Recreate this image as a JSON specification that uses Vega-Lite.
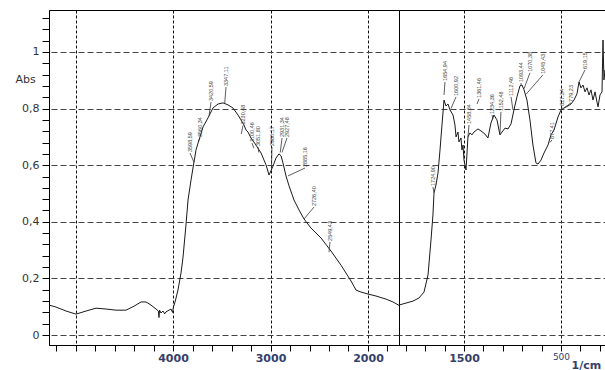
{
  "$schema": "https://vega.github.io/schema/vega-lite/v6.json",
  "padding": {"left": 14, "top": 9, "right": 0, "bottom": 0},
  "autosize": {"type": "pad"},
  "spacing": 0,
  "bounds": "flush",
  "config": {
    "view": {"stroke": "#000", "strokeWidth": 1},
    "axis": {"domainColor": "#000", "tickColor": "#000", "domainWidth": 1, "tickWidth": 1, "labelOverlap": false, "labelFlush": false, "labelBound": false, "tickCount": 200}
  },
  "datasets": {
    "left": [
      {"w":5272,"a":0.106},{"w":5200,"a":0.099},{"w":5097,"a":0.085},{"w":4995,"a":0.074},{"w":4892,"a":0.085},{"w":4790,"a":0.095},{"w":4687,"a":0.092},{"w":4585,"a":0.088},{"w":4482,"a":0.088},{"w":4400,"a":0.102},{"w":4328,"a":0.117},{"w":4277,"a":0.117},{"w":4226,"a":0.106},{"w":4174,"a":0.092},{"w":4150,"a":0.085},{"w":4144,"a":0.062},{"w":4138,"a":0.088},{"w":4123,"a":0.078},{"w":4103,"a":0.085},{"w":4085,"a":0.075},{"w":4072,"a":0.082},{"w":4041,"a":0.088},{"w":4020,"a":0.092},{"w":4005,"a":0.08},{"w":3995,"a":0.1},{"w":3979,"a":0.117},{"w":3949,"a":0.159},{"w":3918,"a":0.219},{"w":3897,"a":0.276},{"w":3867,"a":0.389},{"w":3846,"a":0.477},{"w":3815,"a":0.548},{"w":3795,"a":0.59},{"w":3764,"a":0.654},{"w":3733,"a":0.689},{"w":3692,"a":0.735},{"w":3641,"a":0.767},{"w":3590,"a":0.802},{"w":3538,"a":0.816},{"w":3487,"a":0.82},{"w":3436,"a":0.813},{"w":3385,"a":0.802},{"w":3333,"a":0.777},{"w":3303,"a":0.76},{"w":3272,"a":0.742},{"w":3251,"a":0.724},{"w":3231,"a":0.717},{"w":3200,"a":0.696},{"w":3149,"a":0.671},{"w":3097,"a":0.643},{"w":3046,"a":0.601},{"w":3015,"a":0.565},{"w":2974,"a":0.597},{"w":2944,"a":0.625},{"w":2913,"a":0.64},{"w":2892,"a":0.633},{"w":2872,"a":0.608},{"w":2841,"a":0.562},{"w":2810,"a":0.527},{"w":2759,"a":0.477},{"w":2708,"a":0.442},{"w":2656,"a":0.41},{"w":2585,"a":0.378},{"w":2482,"a":0.343},{"w":2380,"a":0.297},{"w":2277,"a":0.247},{"w":2174,"a":0.191},{"w":2123,"a":0.159},{"w":2072,"a":0.152},{"w":2000,"a":0.145},{"w":1918,"a":0.138},{"w":1815,"a":0.127},{"w":1744,"a":0.117},{"w":1682,"a":0.105}
    ],
    "right": [
      {"w":2170,"a":0.106},{"w":2098,"a":0.113},{"w":2026,"a":0.12},{"w":1964,"a":0.131},{"w":1912,"a":0.152},{"w":1871,"a":0.212},{"w":1840,"a":0.336},{"w":1820,"a":0.424},{"w":1809,"a":0.502},{"w":1789,"a":0.53},{"w":1768,"a":0.572},{"w":1747,"a":0.654},{"w":1727,"a":0.742},{"w":1706,"a":0.83},{"w":1686,"a":0.809},{"w":1665,"a":0.816},{"w":1644,"a":0.795},{"w":1613,"a":0.777},{"w":1593,"a":0.742},{"w":1582,"a":0.7},{"w":1562,"a":0.717},{"w":1552,"a":0.682},{"w":1531,"a":0.696},{"w":1521,"a":0.654},{"w":1510,"a":0.671},{"w":1500,"a":0.618},{"w":1479,"a":0.583},{"w":1459,"a":0.7},{"w":1438,"a":0.714},{"w":1418,"a":0.707},{"w":1397,"a":0.717},{"w":1356,"a":0.728},{"w":1325,"a":0.721},{"w":1284,"a":0.71},{"w":1253,"a":0.696},{"w":1222,"a":0.749},{"w":1191,"a":0.777},{"w":1160,"a":0.76},{"w":1129,"a":0.707},{"w":1108,"a":0.717},{"w":1077,"a":0.731},{"w":1046,"a":0.728},{"w":1015,"a":0.746},{"w":985,"a":0.795},{"w":954,"a":0.841},{"w":923,"a":0.88},{"w":902,"a":0.883},{"w":881,"a":0.866},{"w":851,"a":0.83},{"w":820,"a":0.76},{"w":789,"a":0.671},{"w":758,"a":0.608},{"w":737,"a":0.604},{"w":706,"a":0.618},{"w":675,"a":0.643},{"w":634,"a":0.671},{"w":603,"a":0.707},{"w":572,"a":0.724},{"w":531,"a":0.77},{"w":500,"a":0.795},{"w":469,"a":0.802},{"w":428,"a":0.809},{"w":397,"a":0.816},{"w":366,"a":0.83},{"w":335,"a":0.852},{"w":314,"a":0.894},{"w":294,"a":0.873},{"w":273,"a":0.883},{"w":252,"a":0.859},{"w":232,"a":0.873},{"w":211,"a":0.848},{"w":191,"a":0.866},{"w":170,"a":0.83},{"w":149,"a":0.859},{"w":129,"a":0.823},{"w":118,"a":0.806},{"w":98,"a":0.848},{"w":77,"a":0.859},{"w":67,"a":1.042},{"w":57,"a":0.901},{"w":46,"a":0.936},{"w":36,"a":0.919}
    ],
    "lblL": [
      {"t":"3598,59","w":3826,"yl":0.643,"wc":3785,"yc":0.61},
      {"t":"3560,34","w":3723,"yl":0.696,"wc":3740,"yc":0.685},
      {"t":"3420,59","w":3610,"yl":0.823,"wc":3630,"yc":0.775},
      {"t":"3347,11","w":3456,"yl":0.876,"wc":3470,"yc":0.818},
      {"t":"3230,48","w":3282,"yl":0.74,"wc":3300,"yc":0.71},
      {"t":"3100,46","w":3190,"yl":0.678,"wc":3170,"yc":0.66},
      {"t":"3051,80","w":3128,"yl":0.664,"wc":3120,"yc":0.645},
      {"t":"2960,17","w":2985,"yl":0.664,"wc":2990,"yc":0.59},
      {"t":"2931,34","w":2882,"yl":0.696,"wc":2900,"yc":0.645},
      {"t":"2927,48","w":2831,"yl":0.696,"wc":2882,"yc":0.645},
      {"t":"2885,16","w":2646,"yl":0.59,"wc":2821,"yc":0.562},
      {"t":"2726,40","w":2554,"yl":0.452,"wc":2656,"yc":0.41},
      {"t":"2549,43","w":2390,"yl":0.329,"wc":2400,"yc":0.293}
    ],
    "lblR": [
      {"t":"1724,90","w":1820,"yl":0.523,"wc":1809,"yc":0.502},
      {"t":"1654,94","w":1696,"yl":0.894,"wc":1706,"yc":0.848},
      {"t":"1600,92","w":1582,"yl":0.841,"wc":1634,"yc":0.8},
      {"t":"1458,84","w":1448,"yl":0.742,"wc":1459,"yc":0.7},
      {"t":"1361,46","w":1345,"yl":0.834,"wc":1366,"yc":0.816},
      {"t":"1234,36","w":1211,"yl":0.777,"wc":1201,"yc":0.763},
      {"t":"1152,48","w":1119,"yl":0.788,"wc":1129,"yc":0.71},
      {"t":"1112,46","w":1015,"yl":0.841,"wc":995,"yc":0.795},
      {"t":"1093,44","w":912,"yl":0.89,"wc":912,"yc":0.88},
      {"t":"1070,38","w":820,"yl":0.926,"wc":881,"yc":0.87},
      {"t":"1045,43","w":686,"yl":0.919,"wc":861,"yc":0.85},
      {"t":"877,41","w":593,"yl":0.689,"wc":613,"yc":0.68},
      {"t":"827,34","w":490,"yl":0.806,"wc":500,"yc":0.795},
      {"t":"779,23","w":397,"yl":0.82,"wc":469,"yc":0.802},
      {"t":"619,15","w":253,"yl":0.936,"wc":314,"yc":0.894}
    ]
  },
  "hconcat": [
    {
      "width": 350,
      "height": 335,
      "layer": [
        {
          "data": {"name": "left"},
          "mark": {"type": "line", "color": "#1a1a1a", "strokeWidth": 1, "clip": true},
          "encoding": {
            "x": {
              "field": "w", "type": "quantitative",
              "scale": {"domain": [1682, 5272], "reverse": true, "nice": false, "zero": false},
              "axis": {
                "title": null,
                "values": [5200,5000,4800,4600,4400,4200,4000,3800,3600,3400,3200,3000,2800,2600,2400,2200,2000,1800],
                "tickCount": 200,
                "format": "d",
                "labelOverlap": false, "labelBound": false, "labelFlush": false,
                "labelExpr": "(datum.value == 4000 || datum.value == 3000 || datum.value == 2000) ? datum.label : ''",
                "grid": true, "gridColor": "#111", "gridDash": [3, 2], "gridWidth": 1,
                "gridOpacity": {"condition": {"test": "datum.value % 1000 === 0", "value": 1}, "value": 0},
                "tickSize": 6, "labelPadding": 1,
                "labelFont": "DejaVu Sans", "labelFontSize": 11, "labelFontWeight": "bold", "labelColor": "#35406a"
              }
            },
            "y": {
              "field": "a", "type": "quantitative",
              "scale": {"domain": [-0.035, 1.148], "nice": false, "zero": false},
              "axis": {
                "title": "Abs", "titleAngle": 0, "titleX": -24, "titleY": 69, "titleAlign": "center", "titleBaseline": "middle",
                "titleFont": "DejaVu Sans", "titleFontSize": 11, "titleFontWeight": "normal", "titleColor": "#333",
                "values": [0,0.04,0.08,0.12,0.16,0.2,0.24,0.28,0.32,0.36,0.4,0.44,0.48,0.52,0.56,0.6,0.64,0.68,0.72,0.76,0.8,0.84,0.88,0.92,0.96,1,1.04,1.08,1.12],
                "tickCount": 200,
                "labelOverlap": false, "labelBound": false, "labelFlush": false,
                "labelExpr": "abs(datum.value*5 - round(datum.value*5)) < 0.001 ? replace(format(datum.value, '.1~f'), '.', ',') : ''",
                "grid": true, "gridColor": "#444", "gridDash": [6, 3], "gridWidth": 1,
                "gridOpacity": {"condition": {"test": "abs(datum.value*5 - round(datum.value*5)) < 0.001", "value": 1}, "value": 0},
                "tickSize": 7, "labelPadding": 3,
                "labelFont": "DejaVu Sans", "labelFontSize": 11, "labelColor": "#333"
              }
            }
          }
        },
        {
          "data": {"name": "lblL"},
          "mark": {"type": "rule", "color": "#333", "strokeWidth": 0.8},
          "encoding": {
            "x": {"field": "wc", "type": "quantitative"},
            "y": {"field": "yc", "type": "quantitative"},
            "x2": {"field": "w"},
            "y2": {"field": "yl"}
          }
        },
        {
          "data": {"name": "lblL"},
          "mark": {"type": "text", "angle": 270, "align": "left", "baseline": "middle", "fontSize": 5.5, "font": "Liberation Sans", "color": "#444", "dx": 1},
          "encoding": {
            "x": {"field": "w", "type": "quantitative"},
            "y": {"field": "yl", "type": "quantitative"},
            "text": {"field": "t"}
          }
        }
      ]
    },
    {
      "width": 210,
      "height": 335,
      "layer": [
        {
          "data": {"name": "right"},
          "mark": {"type": "line", "color": "#1a1a1a", "strokeWidth": 1, "clip": true},
          "encoding": {
            "x": {
              "field": "w", "type": "quantitative",
              "scale": {"domain": [5, 2170], "reverse": true, "nice": false, "zero": false},
              "axis": {
                "title": "1/cm", "titleX": 172, "titleY": 23, "titleAlign": "left", "titleBaseline": "alphabetic",
                "titleFont": "DejaVu Sans", "titleFontSize": 11, "titleFontWeight": "bold", "titleColor": "#35406a",
                "values": [2100,1900,1700,1500,1300,1100,900,700,500,300,100],
                "tickCount": 200,
                "format": "d",
                "labelOverlap": false, "labelBound": false, "labelFlush": false,
                "labelExpr": "(datum.value == 1500 || datum.value == 500) ? datum.label : ''",
                "grid": true, "gridColor": "#111", "gridDash": [3, 2], "gridWidth": 1,
                "gridOpacity": {"condition": {"test": "datum.value == 1500 || datum.value == 500", "value": 1}, "value": 0},
                "tickSize": 6, "labelPadding": 1,
                "labelFont": "DejaVu Sans",
                "labelFontSize": {"condition": {"test": "datum.value == 500", "value": 9}, "value": 11},
                "labelFontWeight": {"condition": {"test": "datum.value == 500", "value": "normal"}, "value": "bold"},
                "labelColor": "#35406a"
              }
            },
            "y": {
              "field": "a", "type": "quantitative",
              "scale": {"domain": [-0.035, 1.148], "nice": false, "zero": false},
              "axis": {
                "title": null, "labels": false, "ticks": false, "domain": false,
                "values": [0,0.2,0.4,0.6,0.8,1],
                "tickCount": 200,
                "grid": true, "gridColor": "#444", "gridDash": [6, 3], "gridWidth": 1
              }
            }
          }
        },
        {
          "data": {"name": "lblR"},
          "mark": {"type": "rule", "color": "#333", "strokeWidth": 0.8},
          "encoding": {
            "x": {"field": "wc", "type": "quantitative"},
            "y": {"field": "yc", "type": "quantitative"},
            "x2": {"field": "w"},
            "y2": {"field": "yl"}
          }
        },
        {
          "data": {"name": "lblR"},
          "mark": {"type": "text", "angle": 270, "align": "left", "baseline": "middle", "fontSize": 5.5, "font": "Liberation Sans", "color": "#444", "dx": 1},
          "encoding": {
            "x": {"field": "w", "type": "quantitative"},
            "y": {"field": "yl", "type": "quantitative"},
            "text": {"field": "t"}
          }
        }
      ]
    }
  ]
}
